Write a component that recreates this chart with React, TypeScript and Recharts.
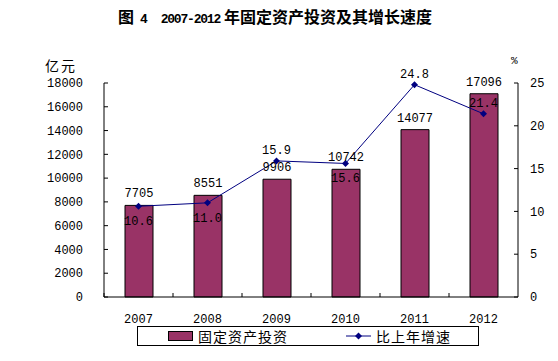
import { Bar, ComposedChart, LabelList, Legend, Line, XAxis, YAxis } from "recharts";

const YEARS = ["2007", "2008", "2009", "2010", "2011", "2012"];
const INVESTMENT = [7705, 8551, 9906, 10742, 14077, 17096];
const GROWTH = [10.6, 11.0, 15.9, 15.6, 24.8, 21.4];
const LEFT_TICKS = [0, 2000, 4000, 6000, 8000, 10000, 12000, 14000, 16000, 18000];
const RIGHT_TICKS = [0, 5, 10, 15, 20, 25];

// where each growth label sits relative to its point
const GROWTH_LABEL_SIDE = ["below", "below", "above", "below", "above", "above"];

const W = 558;
const H = 361;
const PLOT_LEFT = 104;
const PLOT_RIGHT = 518;
const HALF_BAND = (PLOT_RIGHT - PLOT_LEFT) / YEARS.length / 2;

const BAR_COLOR = "#993366";
const LINE_COLOR = "#000080";
const NUM_FONT = "'Liberation Mono', monospace";
const CJK_FONT = "'Noto Sans CJK SC', sans-serif";

const data = YEARS.map((year, i) => ({
  year,
  investment: INVESTMENT[i],
  growth: GROWTH[i],
}));

function YearTick(props: any) {
  const { x, y, payload } = props;
  return (
    <g>
      <line x1={x - HALF_BAND} x2={x - HALF_BAND} y1={y} y2={y - 4} stroke="#000" />
      <text x={x} y={y + 26} textAnchor="middle" fontSize={12} fontFamily={NUM_FONT} fill="#000">
        {payload.value}
      </text>
    </g>
  );
}

function Diamond(props: any) {
  const { cx, cy } = props;
  if (cx == null || cy == null) return null;
  const r = 3.5;
  return (
    <polygon
      points={`${cx},${cy - r} ${cx + r},${cy} ${cx},${cy + r} ${cx - r},${cy}`}
      fill={LINE_COLOR}
    />
  );
}

function GrowthLabel(props: any) {
  const x = props.x ?? props.viewBox?.x;
  const y = props.y ?? props.viewBox?.y;
  const side = GROWTH_LABEL_SIDE[props.index] ?? "above";
  const ty = side === "above" ? y - 7 : y + 19;
  return (
    <text x={x} y={ty} textAnchor="middle" fontSize={12} fontFamily={NUM_FONT} fill="#000">
      {Number(props.value).toFixed(1)}
    </text>
  );
}

function LegendBox() {
  return (
    <div
      style={{
        boxSizing: "border-box",
        width: 342,
        height: 20,
        border: "1px solid #000",
        background: "#fff",
        display: "flex",
        alignItems: "center",
        fontFamily: CJK_FONT,
        fontSize: 14,
        color: "#000",
        lineHeight: "18px",
      }}
    >
      <span
        style={{
          marginLeft: 30,
          width: 25,
          height: 10,
          boxSizing: "border-box",
          background: BAR_COLOR,
          border: "1px solid #000",
        }}
      />
      <span style={{ marginLeft: 5, letterSpacing: 1 }}>固定资产投资</span>
      <svg width={25} height={10} style={{ marginLeft: 58 }}>
        <line x1={0} x2={25} y1={5} y2={5} stroke={LINE_COLOR} />
        <polygon points="12.5,1.5 16,5 12.5,8.5 9,5" fill={LINE_COLOR} />
      </svg>
      <span style={{ marginLeft: 5, letterSpacing: 1 }}>比上年增速</span>
    </div>
  );
}

function Title() {
  const num = { fontFamily: NUM_FONT, fontSize: 13, letterSpacing: -1.2 };
  return (
    <div
      style={{
        position: "absolute",
        left: 118,
        top: 5,
        whiteSpace: "nowrap",
        fontFamily: CJK_FONT,
        fontWeight: "bold",
        fontSize: 16,
        color: "#000",
        lineHeight: "22px",
      }}
    >
      图<span style={{ ...num, marginLeft: 6 }}>4</span>
      <span style={{ ...num, marginLeft: 14 }}>2007-2012</span>
      <span style={{ marginLeft: 4 }}>年固定资产投资及其增长速度</span>
    </div>
  );
}

export default function App() {
  return (
    <div style={{ position: "absolute", left: 0, top: 0, width: W, height: H, background: "#fff" }}>
      <Title />
      <div style={{ position: "absolute", left: 45, top: 55, fontFamily: CJK_FONT, fontSize: 14, letterSpacing: 2 }}>
        亿元
      </div>
      <div style={{ position: "absolute", left: 511, top: 55, fontFamily: NUM_FONT, fontSize: 11 }}>%</div>
      <ComposedChart
        width={W}
        height={H}
        data={data}
        margin={{ top: 83, right: 0, bottom: 34, left: 0 }}
        style={{ position: "absolute", left: 0, top: 0 }}
      >
        <XAxis
          dataKey="year"
          height={30}
          tickSize={0}
          tickMargin={0}
          tickLine={false}
          axisLine={{ stroke: "#000" }}
          tick={<YearTick />}
        />
        <YAxis
          yAxisId="left"
          orientation="left"
          width={PLOT_LEFT}
          domain={[0, 18000]}
          ticks={LEFT_TICKS}
          interval={0}
          tickSize={-4}
          tickMargin={25}
          axisLine={{ stroke: "#000" }}
          tickLine={{ stroke: "#000" }}
          tick={{ fill: "#000", fontSize: 12, fontFamily: NUM_FONT }}
        />
        <YAxis
          yAxisId="right"
          orientation="right"
          width={W - PLOT_RIGHT}
          domain={[0, 25]}
          ticks={RIGHT_TICKS}
          interval={0}
          tickSize={-4}
          tickMargin={16}
          axisLine={{ stroke: "#000" }}
          tickLine={{ stroke: "#000" }}
          tick={{ fill: "#000", fontSize: 12, fontFamily: NUM_FONT, textAnchor: "start" }}
        />
        <Bar
          yAxisId="left"
          dataKey="investment"
          name="固定资产投资"
          fill={BAR_COLOR}
          stroke="#000"
          strokeWidth={1}
          barSize={28}
          isAnimationActive={false}
        >
          <LabelList
            dataKey="investment"
            position="top"
            offset={8}
            fill="#000"
            fontSize={12}
            fontFamily={NUM_FONT}
          />
        </Bar>
        <Line
          yAxisId="right"
          dataKey="growth"
          name="比上年增速"
          stroke={LINE_COLOR}
          strokeWidth={1}
          dot={<Diamond />}
          activeDot={false}
          isAnimationActive={false}
        >
          <LabelList dataKey="growth" content={<GrowthLabel />} />
        </Line>
        <Legend
          verticalAlign="middle"
          align="center"
          content={<LegendBox />}
          wrapperStyle={{ left: 137, top: 326, width: 342, height: 20 }}
        />
      </ComposedChart>
    </div>
  );
}
